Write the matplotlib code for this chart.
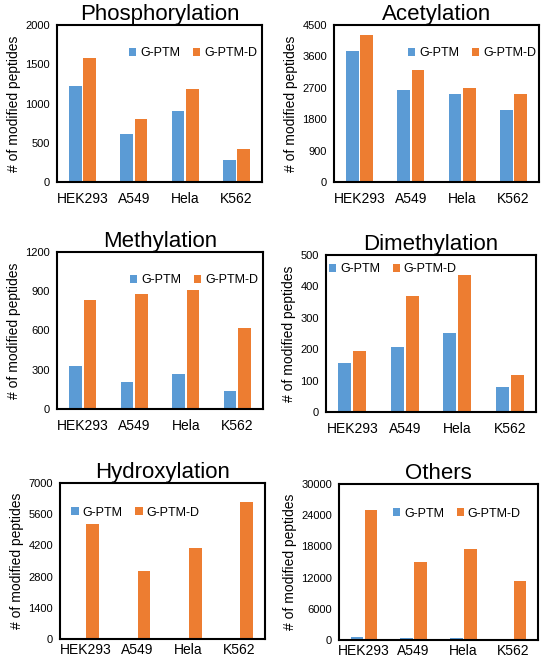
import matplotlib.pyplot as plt
import numpy as np

plt.rcParams['font.family'] = ['Liberation Sans', 'DejaVu Sans']

cells = ["HEK293", "A549", "Hela", "K562"]

titles = ["Phosphorylation", "Acetylation", "Methylation",
          "Dimethylation", "Hydroxylation", "Others"]

phos_g = [1220, 608, 910, 285]
phos_d = [1575, 805, 1190, 425]
acet_g = [3745, 2625, 2520, 2060]
acet_d = [4220, 3215, 2690, 2520]
meth_g = [325, 207, 268, 140]
meth_d = [832, 876, 909, 620]
dime_g = [156, 206, 251, 80]
dime_d = [194, 368, 437, 119]
hydr_g = [0, 0, 0, 0]
hydr_d = [5180, 3035, 4100, 6140]
othe_g = [500, 300, 450, 200]
othe_d = [25000, 15050, 17500, 11400]

g_vals = [phos_g, acet_g, meth_g, dime_g, hydr_g, othe_g]
d_vals = [phos_d, acet_d, meth_d, dime_d, hydr_d, othe_d]
yticks = [np.arange(0, 2001, 500), np.arange(0, 4501, 900),
          np.arange(0, 1201, 300), np.arange(0, 501, 100),
          np.arange(0, 7001, 1400), np.arange(0, 30001, 6000)]

blue = "#5B9BD5"
orange = "#ED7D31"

# axes boxes in pixels: left, top, right, bottom
boxes = [(57, 25, 262, 182), (334, 25, 539, 182),
         (57, 252, 263, 409), (326, 255, 536, 412),
         (60, 483, 265, 639), (339, 484, 538, 640)]
leg_anchor = [(1.03, 0.93), (1.04, 0.93), (1.03, 0.93),
              (-0.04, 1.02), (0.0, 0.92), (0.97, 0.92)]
leg_loc = ["upper right", "upper right", "upper right",
           "upper left", "upper left", "upper right"]
xpad = [7, 7, 7, 7, 3, 3]

W, H = 541, 662
fig = plt.figure(figsize=(W / 100, H / 100), dpi=100)

x = np.arange(len(cells))
for i in range(6):
    l, t, r, b = boxes[i]
    ax = fig.add_axes([l / W, (H - b) / H, (r - l) / W, (b - t) / H])
    ax.bar(x - 0.14, g_vals[i], width=0.25, color=blue, label="G-PTM")
    ax.bar(x + 0.14, d_vals[i], width=0.25, color=orange, label="G-PTM-D")
    ax.set_xlim(-0.5, 3.5)
    ax.set_ylim(0, yticks[i][-1])
    ax.set_yticks(yticks[i])
    ax.set_xticks(x)
    ax.set_xticklabels(cells)
    ax.tick_params(axis="y", length=0, labelsize=8, pad=5)
    ax.tick_params(axis="x", length=0, labelsize=10, pad=xpad[i])
    for s in ax.spines.values():
        s.set_linewidth(1.5)
    ax.set_title(titles[i], fontsize=16, pad=2)
    ax.set_ylabel("# of modified peptides", fontsize=10, labelpad=3)
    ax.legend(loc=leg_loc[i], bbox_to_anchor=leg_anchor[i], frameon=False,
              ncol=2, fontsize=9, handlelength=0.6, handleheight=0.6,
              handletextpad=0.3, columnspacing=1.0)

fig.savefig("out.png", dpi=100)
